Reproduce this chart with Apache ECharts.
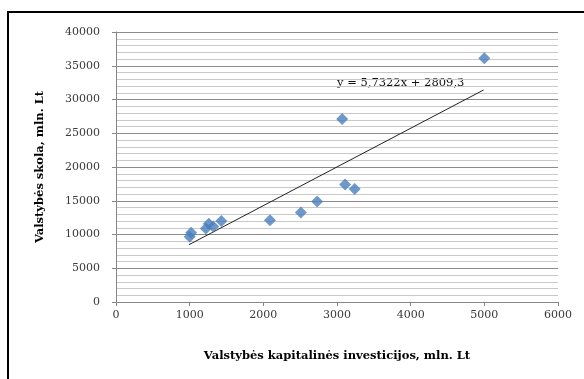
<!DOCTYPE html>
<html><head><meta charset="utf-8">
<script src="https://cdn.jsdelivr.net/npm/echarts@6/dist/echarts.min.js"></script>
<style>html,body{margin:0;padding:0;background:#fff}#c{width:584px;height:379px}</style>
</head><body><div id="c"></div>
<script>
const investX = [1000, 1020, 1220, 1260, 1320, 1430, 2090, 2510, 2730, 3070, 3110, 3240, 5000];
const debtY   = [9650, 10250, 10900, 11600, 11200, 12000, 12100, 13250, 14900, 27100, 17400, 16750, 36100];
const trendSlope = 5.7322;
const trendIntercept = 2809.3;
const trendRange = [990, 4990];
const equationText = 'y = 5,7322x + 2809,3';
const xAxisTitle = 'Valstybės kapitalinės investicijos, mln. Lt';
const yAxisTitle = 'Valstybės skola, mln. Lt';

const points = investX.map((x, i) => [x, debtY[i]]);
const trend = trendRange.map(x => [x, trendSlope * x + trendIntercept]);

const chart = echarts.init(document.getElementById('c'));
const serif = '"DejaVu Serif", "Liberation Serif", serif';
chart.setOption({
  animation: false,
  backgroundColor: '#fff',
  grid: { left: 116, right: 26, top: 32, bottom: 77 },
  xAxis: {
    type: 'value', min: 0, max: 6000, interval: 1000,
    name: xAxisTitle, nameLocation: 'middle', nameGap: 48,
    nameTextStyle: { fontFamily: serif, fontWeight: 'bold', fontSize: 11.5, color: '#000' },
    axisLine: { show: true, lineStyle: { color: '#868686', width: 1 } },
    axisTick: { show: true, length: 4, lineStyle: { color: '#868686' } },
    axisLabel: { fontFamily: serif, fontSize: 11, color: '#3a3a3a', margin: 8, formatter: v => String(v) },
    splitLine: { show: false }
  },
  yAxis: {
    type: 'value', min: 0, max: 40000, interval: 5000,
    name: yAxisTitle, nameLocation: 'middle', nameGap: 70, nameRotate: 90,
    nameTextStyle: { fontFamily: serif, fontWeight: 'bold', fontSize: 11.5, color: '#000' },
    axisLine: { show: true, lineStyle: { color: '#868686', width: 1 } },
    axisTick: { show: true, length: 4, lineStyle: { color: '#868686' } },
    axisLabel: { fontFamily: serif, fontSize: 11, color: '#3a3a3a', margin: 16, formatter: v => String(v) },
    splitLine: { show: true, lineStyle: { color: '#8c8c8c', width: 1 } },
    minorTick: { show: false, splitNumber: 5 },
    minorSplitLine: { show: true, lineStyle: { color: '#c8c8c8', width: 1 } }
  },
  series: [
    {
      type: 'line', data: trend, showSymbol: false, symbol: 'none',
      lineStyle: { color: '#222', width: 1 }, z: 3, silent: true
    },
    {
      type: 'scatter', data: points, symbol: 'diamond', symbolSize: 12,
      itemStyle: { color: '#4A7EBB' }, z: 4
    }
  ],
  graphic: [
    {
      type: 'polyline', silent: true,
      shape: { points: [[8, 400], [8, 12], [600, 12]] },
      style: { fill: 'none', stroke: '#000', lineWidth: 2 }
    },
    {
      type: 'text', x: 337, y: 83,
      style: { text: equationText, font: '11.5px ' + serif, fill: '#111', align: 'left', verticalAlign: 'middle' }
    }
  ]
});
</script></body></html>
